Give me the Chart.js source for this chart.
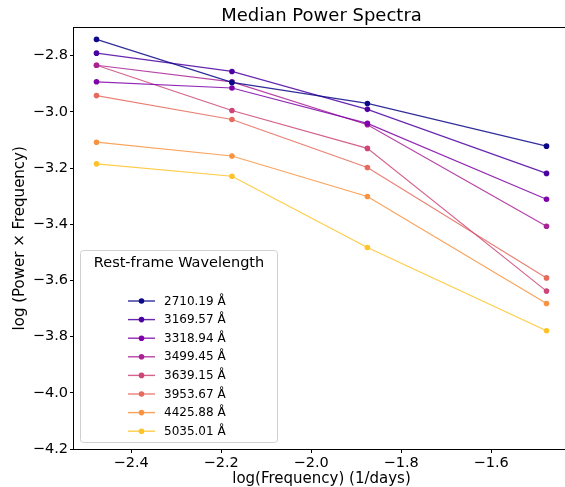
<!DOCTYPE html>
<html>
<head>
<meta charset="utf-8">
<script src="https://cdn.jsdelivr.net/npm/chart.js@4"></script>
<style>
    html, body { margin: 0; padding: 0; background: #fff; overflow: hidden; }
    #wrap { width: 565px; height: 487px; overflow: hidden; }
    canvas { display: block; }
</style>
</head>
<body>
<div id="wrap"><canvas id="psChart" width="573" height="487"></canvas></div>
<script>
// Data
const logFreq = [-2.477, -2.176, -1.875, -1.477];
const wavelengths = ['2710.19 Å', '3169.57 Å', '3318.94 Å', '3499.45 Å',
                     '3639.15 Å', '3953.67 Å', '4425.88 Å', '5035.01 Å'];
const power2710 = [-2.742, -2.895, -2.970, -3.122];
const power3169 = [-2.791, -2.856, -2.991, -3.219];
const power3318 = [-2.893, -2.915, -3.041, -3.311];
const power3499 = [-2.834, -2.893, -3.046, -3.407];
const power3639 = [-2.834, -2.995, -3.130, -3.638];
const power3953 = [-2.942, -3.027, -3.198, -3.591];
const power4425 = [-3.108, -3.157, -3.301, -3.682];
const power5035 = [-3.185, -3.229, -3.483, -3.779];
const xTicks = [-2.4, -2.2, -2.0, -1.8, -1.6];
const yTicks = [-4.2, -4.0, -3.8, -3.6, -3.4, -3.2, -3.0, -2.8];

// plasma colormap samples
const colors = ['#0d0887', '#4c02a1', '#7e03a8', '#a92395',
                '#cc4778', '#e56b5d', '#f89441', '#fdc328'];

const seriesList = [power2710, power3169, power3318, power3499,
                    power3639, power3953, power4425, power5035];

const FONT = "'DejaVu Sans', sans-serif";

function withAlpha(hex, a) {
    const n = parseInt(hex.slice(1), 16);
    return `rgba(${(n >> 16) & 255},${(n >> 8) & 255},${n & 255},${a})`;
}

function fmt(v) {
    return (v < 0 ? '\u2212' : '') + Math.abs(v).toFixed(1);
}

const datasets = seriesList.map((vals, i) => ({
    label: wavelengths[i],
    data: logFreq.map((x, j) => ({ x: x, y: vals[j] })),
    borderColor: withAlpha(colors[i], 0.85),
    backgroundColor: colors[i],
    pointBackgroundColor: colors[i],
    pointBorderWidth: 0,
    pointRadius: 2.8,
    borderWidth: 1.2,
    tension: 0
}));

// box around the plot like matplotlib spines (right one sits just past the page edge)
const framePlugin = {
    id: 'frame',
    afterDraw(chart) {
        const { ctx, chartArea: a } = chart;
        const l = Math.round(a.left) - 0.5, t = Math.round(a.top) - 0.5;
        const b = Math.round(a.bottom) + 0.5, r = Math.round(a.right) + 0.5;
        ctx.save();
        ctx.strokeStyle = '#000';
        ctx.lineWidth = 1;
        ctx.strokeRect(l, t, r - l, b - t);
        ctx.restore();
    }
};

// legend box inside the axes, lower left
const legendPlugin = {
    id: 'boxLegend',
    afterDraw(chart) {
        const ctx = chart.ctx;
        const x0 = 80.5, y0 = 250.5, w = 197, h = 192;
        ctx.save();
        ctx.beginPath();
        ctx.roundRect(x0, y0, w, h, 3);
        ctx.fillStyle = 'rgba(255,255,255,0.8)';
        ctx.fill();
        ctx.strokeStyle = '#d0d0d0';
        ctx.lineWidth = 1;
        ctx.stroke();

        ctx.fillStyle = '#000';
        ctx.font = '14.5px ' + FONT;
        ctx.textAlign = 'center';
        ctx.textBaseline = 'middle';
        ctx.fillText('Rest-frame Wavelength', 179, 263);

        ctx.font = '12px ' + FONT;
        ctx.textAlign = 'left';
        chart.data.datasets.forEach((ds, i) => {
            const y = 301 + i * 18.6;
            ctx.strokeStyle = ds.borderColor;
            ctx.lineWidth = 1.4;
            ctx.beginPath();
            ctx.moveTo(128, y);
            ctx.lineTo(155, y);
            ctx.stroke();
            ctx.fillStyle = ds.backgroundColor;
            ctx.beginPath();
            ctx.arc(141.5, y, 2.8, 0, Math.PI * 2);
            ctx.fill();
            ctx.fillStyle = '#000';
            ctx.fillText(ds.label, 164, y + 0.5);
        });
        ctx.restore();
    }
};

new Chart(document.getElementById('psChart'), {
    type: 'line',
    data: { datasets: datasets },
    plugins: [framePlugin, legendPlugin],
    options: {
        responsive: false,
        animation: false,
        layout: { padding: 0 },
        plugins: {
            legend: { display: false },
            tooltip: { enabled: false },
            title: {
                display: true,
                text: 'Median Power Spectra',
                fullSize: false,
                color: '#000',
                font: { family: FONT, size: 18, weight: 'normal' },
                padding: { top: 6, bottom: 0 }
            }
        },
        scales: {
            x: {
                type: 'linear',
                min: -2.527,
                max: -1.427,
                afterBuildTicks: s => { s.ticks = xTicks.map(v => ({ value: v })); },
                afterFit: s => { s.height = 38; },
                border: { display: false },
                grid: { drawOnChartArea: false, drawTicks: true, tickLength: 4, color: '#000' },
                ticks: {
                    color: '#000',
                    padding: 2,
                    maxRotation: 0,
                    font: { family: FONT, size: 14.5 },
                    callback: v => fmt(v)
                },
                title: {
                    display: true,
                    text: 'log(Frequency) (1/days)',
                    color: '#000',
                    font: { family: FONT, size: 15 },
                    padding: { top: 0, bottom: -1 }
                }
            },
            y: {
                type: 'linear',
                min: -4.2,
                max: -2.70,
                afterBuildTicks: s => { s.ticks = yTicks.map(v => ({ value: v })); },
                afterFit: s => { s.width = 74; },
                border: { display: false },
                grid: { drawOnChartArea: false, drawTicks: true, tickLength: 4, color: '#000' },
                ticks: {
                    color: '#000',
                    padding: 2,
                    font: { family: FONT, size: 14.5 },
                    callback: v => fmt(v)
                },
                title: {
                    display: true,
                    text: 'log (Power \u00d7 Frequency)',
                    color: '#000',
                    font: { family: FONT, size: 15 },
                    padding: { top: 11, bottom: 0 }
                }
            }
        }
    }
});
</script>
</body>
</html>
